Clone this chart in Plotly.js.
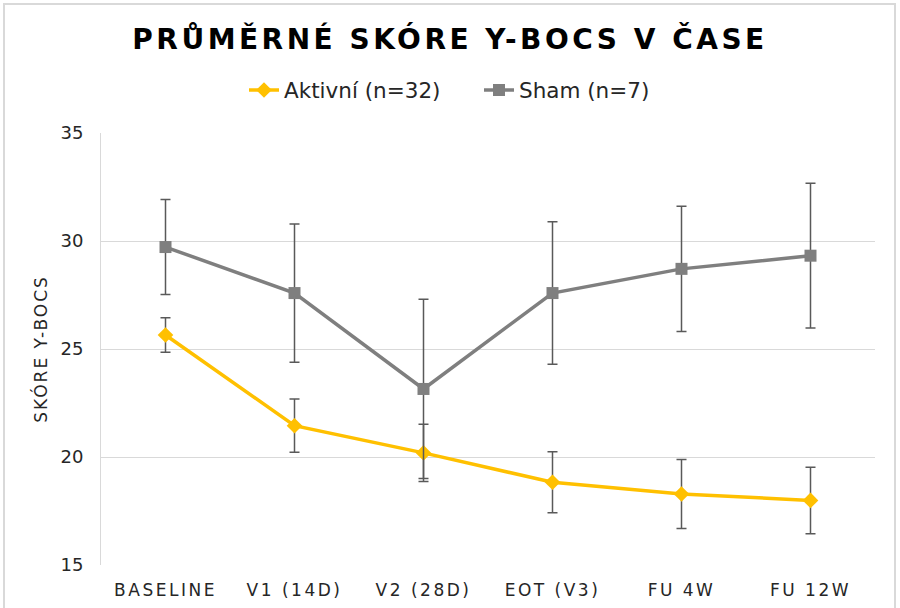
<!DOCTYPE html>
<html>
<head>
<meta charset="utf-8">
<script src="https://cdn.plot.ly/plotly-3.0.1.min.js"></script>
<style>
html,body{margin:0;padding:0;background:#fff;}
#chart{width:900px;height:608px;}
#chart .gtitle{letter-spacing:3.5px;}
#chart .xtick text{letter-spacing:2.5px;}
#chart .ytitle{letter-spacing:2px;}
</style>
</head>
<body>
<div id="chart"></div>
<script>
const categories = ["BASELINE", "V1 (14D)", "V2 (28D)", "EOT (V3)", "FU 4W", "FU 12W"];
const aktivniName = "Aktivní (n=32)";
const aktivniMean = [25.65, 21.45, 20.19, 18.83, 18.29, 17.99];
const aktivniErr  = [0.8, 1.23, 1.33, 1.41, 1.6, 1.54];
const shamName = "Sham (n=7)";
const shamMean = [29.72, 27.59, 23.15, 27.59, 28.71, 29.32];
const shamErr  = [2.2, 3.2, 4.15, 3.3, 2.9, 3.35];
const yTicks = [15, 20, 25, 30, 35];

const font = "'DejaVu Sans', sans-serif";
const L = 101, R = 25, T = 133, B = 43, W = 900, H = 608;
const pw = W - L - R, ph = H - T - B;
const px = v => (v - L) / pw;
const py = v => (H - B - v) / ph;

const traces = [
  {
    x: categories, y: aktivniMean, name: aktivniName, type: "scatter", mode: "lines+markers",
    line: {color: "#FFC000", width: 3.5},
    marker: {symbol: "diamond", size: 12, color: "#FFC000"},
    error_y: {type: "data", array: aktivniErr, visible: true, color: "#595959", thickness: 1.5, width: 5}
  },
  {
    x: categories, y: shamMean, name: shamName, type: "scatter", mode: "lines+markers",
    line: {color: "#7F7F7F", width: 3.5},
    marker: {symbol: "square", size: 12, color: "#7F7F7F"},
    error_y: {type: "data", array: shamErr, visible: true, color: "#595959", thickness: 1.5, width: 5}
  }
];

const layout = {
  width: W, height: H,
  autosize: false,
  margin: {l: L, r: R, t: T, b: B, pad: 0, autoexpand: false},
  paper_bgcolor: "#fff", plot_bgcolor: "#fff",
  title: {
    text: "PRŮMĚRNÉ SKÓRE Y-BOCS V ČASE",
    font: {family: font, size: 28, color: "#000", weight: 700},
    x: 0.5, xanchor: "center", xref: "container", y: 1 - 39/H, yanchor: "middle", yref: "container"
  },
  showlegend: true,
  legend: {
    orientation: "h", x: px(244), xanchor: "left", y: py(90), yanchor: "middle",
    font: {family: font, size: 21.5, color: "#262626"},
    entrywidth: 190, entrywidthmode: "pixels",
    tracegroupgap: 0
  },
  xaxis: {
    type: "category", tickvals: categories, ticktext: categories,
    showgrid: false, showline: false, zeroline: false, ticks: "",
    tickfont: {family: font, size: 17, color: "#262626"},
    tickangle: 0, automargin: false,
    ticklabelstandoff: 13,
    range: [-0.5, categories.length - 0.5], fixedrange: true
  },
  yaxis: {
    range: [15, 35], tickvals: yTicks, ticktext: yTicks.map(String),
    showgrid: true, gridcolor: "#D9D9D9", gridwidth: 1,
    showline: true, linecolor: "#D9D9D9", linewidth: 1,
    zeroline: false, ticks: "", ticklen: 0, automargin: false,
    tickfont: {family: font, size: 18, color: "#262626"},
    ticklabelstandoff: 13,
    title: {text: "SKÓRE Y-BOCS", font: {family: font, size: 17, color: "#262626"}, standoff: 8}
  },
  shapes: [
    {type: "rect", xref: "paper", yref: "paper", x0: px(4), x1: px(895), y0: py(4), y1: py(620),
     line: {color: "#D9D9D9", width: 2}, fillcolor: "rgba(0,0,0,0)", layer: "below"}
  ]
};

Plotly.newPlot("chart", traces, layout, {staticPlot: true, displayModeBar: false});
</script>
</body>
</html>
